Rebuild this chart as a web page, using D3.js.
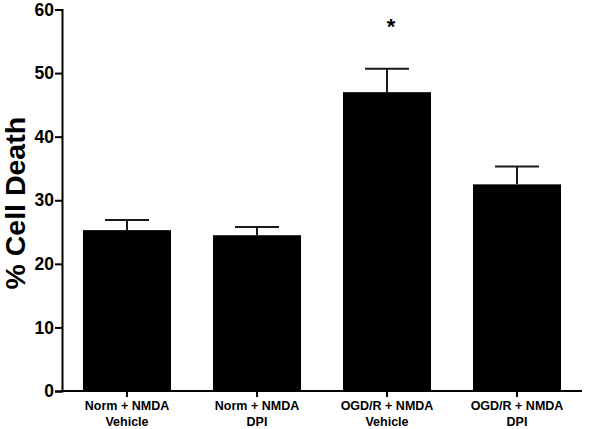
<!DOCTYPE html>
<html>
<head>
<meta charset="utf-8">
<script src="https://cdn.jsdelivr.net/npm/d3@7"></script>
<style>
  body { margin: 0; background: #fff; }
  svg { display: block; }
</style>
</head>
<body>
<div id="chart"></div>
<script>
// data
const groups = ["Norm + NMDA|Vehicle", "Norm + NMDA|DPI", "OGD/R + NMDA|Vehicle", "OGD/R + NMDA|DPI"];
const means = [25.3, 24.5, 47.0, 32.5];
const sems = [1.6, 1.3, 3.7, 2.8];
const significant = [false, false, true, false];
const yTicks = [0, 10, 20, 30, 40, 50, 60];

const width = 600,
  height = 429;
const margin = { top: 9.5, right: 18, bottom: 38, left: 62 };
const font = "'Liberation Sans', Arial, sans-serif";

const svg = d3
  .select("#chart")
  .append("svg")
  .attr("width", width)
  .attr("height", height);

const x = d3
  .scaleBand()
  .domain(groups)
  .range([margin.left, width - margin.right])
  .paddingInner(0.323)
  .paddingOuter(0.1615);

const y = d3
  .scaleLinear()
  .domain([0, 60])
  .range([height - margin.bottom, margin.top]);

// bars
svg
  .selectAll("rect.bar")
  .data(groups)
  .join("rect")
  .attr("class", "bar")
  .attr("x", (d) => x(d))
  .attr("y", (d, i) => y(means[i]))
  .attr("width", x.bandwidth())
  .attr("height", (d, i) => y(0) - y(means[i]))
  .attr("fill", "#000");

// error bars, upper half only
const err = svg.append("g").attr("stroke", "#1a1a1a").attr("stroke-width", 2);
groups.forEach((g, i) => {
  const cx = x(g) + x.bandwidth() / 2;
  const top = y(means[i] + sems[i]);
  err.append("line").attr("x1", cx).attr("x2", cx).attr("y1", y(means[i])).attr("y2", top);
  err
    .append("line")
    .attr("x1", cx - x.bandwidth() / 4)
    .attr("x2", cx + x.bandwidth() / 4)
    .attr("y1", top)
    .attr("y2", top);
});

// significance marker
svg
  .selectAll("text.star")
  .data(groups.filter((d, i) => significant[i]))
  .join("text")
  .attr("class", "star")
  .attr("x", (d) => x(d) + x.bandwidth() / 2 + 4)
  .attr("y", 34)
  .attr("text-anchor", "middle")
  .style("font-family", font)
  .style("font-weight", "bold")
  .style("font-size", "22px")
  .text("*");

// y axis
const yAxis = svg
  .append("g")
  .attr("transform", `translate(${margin.left},0)`)
  .call(d3.axisLeft(y).tickValues(yTicks).tickSize(7).tickPadding(1));
yAxis.select(".domain").attr("stroke-width", 2);
yAxis.selectAll(".tick line").attr("stroke-width", 2);
yAxis
  .selectAll(".tick text")
  .style("font-family", font)
  .style("font-weight", "bold")
  .style("font-size", "17.5px")
  .attr("fill", "#000");

// x axis
const xAxis = svg
  .append("g")
  .attr("transform", `translate(0,${y(0)})`)
  .call(d3.axisBottom(x).tickSize(6).tickSizeOuter(0).tickFormat(""));
xAxis.select(".domain").attr("stroke-width", 2).attr("d", `M${margin.left},0H${width - margin.right}`);
xAxis.selectAll(".tick line").attr("stroke-width", 2);
xAxis.selectAll(".tick").each(function (d) {
  const lines = d.split("|");
  const t = d3
    .select(this)
    .append("text")
    .attr("text-anchor", "middle")
    .attr("fill", "#000")
    .style("font-family", font)
    .style("font-weight", "bold")
    .style("font-size", "12.5px");
  lines.forEach((l, k) => {
    t.append("tspan").attr("x", 0).attr("y", 19 + k * 16).text(l);
  });
});

// y label
svg
  .append("text")
  .attr("transform", `translate(25,${(y(0) + y(60)) / 2 + 3}) rotate(-90)`)
  .attr("text-anchor", "middle")
  .style("font-family", font)
  .style("font-weight", "bold")
  .style("font-size", "28.5px")
  .text("% Cell Death");
</script>
</body>
</html>
